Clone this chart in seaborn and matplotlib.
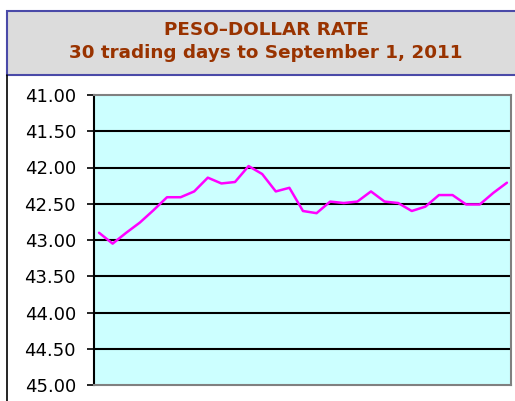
import numpy as np
import pandas as pd
import matplotlib
matplotlib.use("Agg")
import matplotlib.pyplot as plt
import seaborn as sns
from matplotlib.patches import Rectangle
from matplotlib.lines import Line2D

# peso-dollar rate, daily closes
days = list(range(1, 32))
rates = [42.90, 43.05, 42.90, 42.76, 42.59, 42.41, 42.41, 42.33, 42.14, 42.22,
         42.20, 41.98, 42.09, 42.33, 42.28, 42.60, 42.63, 42.47, 42.49, 42.47,
         42.33, 42.47, 42.49, 42.60, 42.54, 42.38, 42.38, 42.51, 42.51, 42.35,
         42.21]
yticks = [41.0, 41.5, 42.0, 42.5, 43.0, 43.5, 44.0, 44.5, 45.0]
title_lines = ["PESO\u2013DOLLAR RATE", "30 trading days to September 1, 2011"]

df = pd.DataFrame({"day": days, "rate": rates})

sns.set_theme(style="white")
plt.rcParams["font.family"] = ["DejaVu Sans"]

W, H = 515, 401
fig = plt.figure(figsize=(W / 100, H / 100), dpi=100)
fig.patch.set_facecolor("white")

# title box
fig.patches.append(Rectangle((7 / W, 1 - 75 / H), 1.2, (75 - 11) / H,
                             transform=fig.transFigure, facecolor="#dcdcdc",
                             edgecolor="#4a4aa8", lw=1.5, zorder=0))
fig.lines.append(Line2D([7 / W, 7 / W], [0, 1 - 75 / H], transform=fig.transFigure,
                        color="black", lw=1.2))
fig.text(266 / W, 1 - 30 / H, title_lines[0], ha="center", va="center",
         fontsize=13.2, fontweight="bold", color="#993300")
fig.text(266 / W, 1 - 53 / H, title_lines[1], ha="center", va="center",
         fontsize=13.2, fontweight="bold", color="#993300")

ax = fig.add_axes([94 / W, (H - 385) / H, (511 - 94) / W, (385 - 95) / H])
ax.set_facecolor("#ccffff")
sns.lineplot(data=df, x="day", y="rate", ax=ax, color="#ff00ff", lw=1.8)

ax.set_ylim(45, 41)
ax.set_xlim(0.63, 31.3)
ax.set_yticks(yticks)
ax.set_yticklabels([f"{v:.2f}" for v in yticks])
ax.set_xticks([])
ax.set_xlabel("")
ax.set_ylabel("")
for v in yticks[1:-1]:
    ax.axhline(v, color="black", lw=1.5, zorder=1)
ax.tick_params(axis="y", left=True, length=5, width=1.2, color="black",
               pad=8, labelsize=13, labelcolor="black")
ax.spines["left"].set_color("black")
ax.spines["left"].set_linewidth(1.5)
for s in ["top", "right", "bottom"]:
    ax.spines[s].set_color("#808080")
    ax.spines[s].set_linewidth(1.5)

fig.savefig("out.png", dpi=100)
